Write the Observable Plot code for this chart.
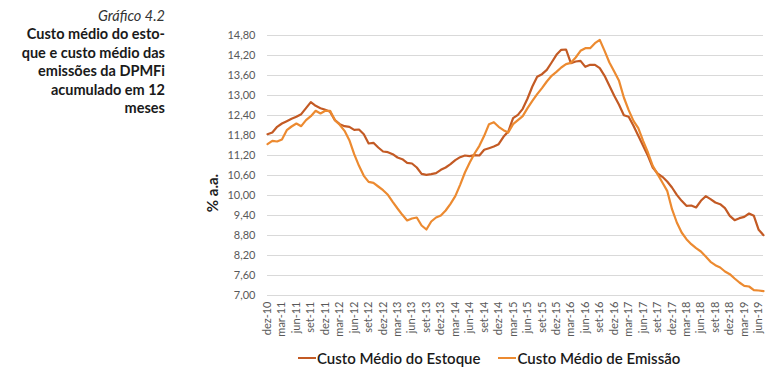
<!DOCTYPE html>
<html>
<head>
<meta charset="utf-8">
<script src="https://cdn.jsdelivr.net/npm/d3@7"></script>
<script src="https://cdn.jsdelivr.net/npm/@observablehq/plot@0.6"></script>
<style>
  html, body { margin: 0; padding: 0; background: #fff; }
  body { width: 780px; height: 375px; position: relative; overflow: hidden; font-family: Lato, "Open Sans", sans-serif; }
  #chart { position: absolute; left: 0; top: 0; z-index: 0; }
  #title { position: absolute; left: 0; top: 7px; width: 165px; text-align: right; z-index: 2; }
  #title .num { font-style: italic; font-size: 14.5px; color: #333; line-height: 18px; }
  #title .main { font-weight: bold; font-size: 14.5px; color: #1a1a1a; line-height: 18.5px; }
  #ylabel { position: absolute; left: 212px; top: 193px; transform: translate(-50%, -50%) rotate(-90deg); font-weight: bold; font-size: 15px; color: #222; white-space: nowrap; z-index: 2; }
  #legend { position: absolute; left: 298px; top: 349px; display: flex; align-items: center; font-size: 15px; color: #1a1a1a; font-weight: 600; white-space: nowrap; z-index: 2; }
  #legend .item { display: flex; align-items: center; margin-right: 18px; }
  #legend .sw { width: 18px; height: 2.5px; margin-right: 1px; }
</style>
</head>
<body>
<div id="chart"></div>
<div id="title">
  <div class="num">Gráfico 4.2</div>
  <div class="main">Custo médio do esto-<br>que e custo médio das<br>emissões da DPMFi<br>acumulado em 12<br>meses</div>
</div>
<div id="ylabel">% a.a.</div>
<div id="legend"></div>
<script>
// Month names (pt-BR) and series start
const monthNames = ["jan","fev","mar","abr","mai","jun","jul","ago","set","out","nov","dez"];
const startYear = 2010, startMonth = 11; // dez-10
const nPoints = 104; // dez-10 .. jul-19

const seriesNames = ["Custo Médio do Estoque", "Custo Médio de Emissão"];
const seriesColors = ["#c35a24", "#ec8a30"];

const estoque = [
  11.84, 11.89, 12.06, 12.16, 12.23, 12.30, 12.36, 12.44, 12.62, 12.80,
  12.69, 12.62, 12.57, 12.51, 12.26, 12.14, 12.08, 12.06, 11.97, 11.98,
  11.84, 11.56, 11.58, 11.44, 11.32, 11.30, 11.24, 11.14, 11.09, 10.98,
  10.96, 10.84, 10.65, 10.62, 10.64, 10.67, 10.77, 10.84, 10.94, 11.06,
  11.15, 11.20, 11.18, 11.21, 11.20, 11.37, 11.42, 11.47, 11.54, 11.76,
  11.92, 12.32, 12.42, 12.60, 12.91, 13.27, 13.56, 13.64, 13.77, 13.99,
  14.22, 14.37, 14.38, 13.97, 14.02, 14.04, 13.86, 13.92, 13.92, 13.82,
  13.59, 13.29, 12.99, 12.72, 12.41, 12.36, 12.09, 11.79, 11.49, 11.19,
  10.84, 10.66, 10.56, 10.42, 10.24, 10.02, 9.84, 9.69, 9.70, 9.64,
  9.84, 9.98, 9.89, 9.79, 9.74, 9.62, 9.39, 9.26, 9.32, 9.36,
  9.46, 9.39, 8.97, 8.81
];

const emissao = [
  11.54, 11.64, 11.62, 11.68, 11.96, 12.07, 12.16, 12.08, 12.26, 12.38,
  12.54, 12.46, 12.54, 12.54, 12.26, 12.12, 11.94, 11.66, 11.24, 10.89,
  10.59, 10.41, 10.38, 10.27, 10.16, 10.02, 9.81, 9.61, 9.42, 9.25,
  9.31, 9.34, 9.10, 8.98, 9.22, 9.34, 9.40, 9.55, 9.75, 9.98,
  10.32, 10.69, 10.99, 11.26, 11.49, 11.79, 12.14, 12.20, 12.06, 11.96,
  11.89, 12.14, 12.26, 12.38, 12.62, 12.84, 13.04, 13.22, 13.42, 13.59,
  13.71, 13.84, 13.94, 13.98, 14.14, 14.34, 14.42, 14.42, 14.57, 14.67,
  14.34, 13.99, 13.72, 13.44, 12.94, 12.56, 12.24, 12.02, 11.64, 11.29,
  10.89, 10.64, 10.39, 10.14, 9.59, 9.19, 8.89, 8.69, 8.54, 8.42,
  8.32, 8.17, 8.01, 7.91, 7.84, 7.72, 7.64, 7.51, 7.39, 7.29,
  7.27, 7.16, 7.15, 7.13
];

const yTicks = [7.00, 7.60, 8.20, 8.80, 9.40, 10.00, 10.60, 11.20, 11.80, 12.40, 13.00, 13.60, 14.20, 14.80];

const months = [];
for (let i = 0; i < nPoints; i++) {
  const mi = (startMonth + i) % 12;
  const yr = startYear + Math.floor((startMonth + i) / 12);
  months.push(monthNames[mi] + "-" + String(yr % 100).padStart(2, "0"));
}
const xTicks = months.filter((_, i) => i % 3 === 0);

const rows = [];
months.forEach((m, i) => {
  rows.push({m, v: estoque[i], s: seriesNames[0]});
});
months.forEach((m, i) => {
  rows.push({m, v: emissao[i], s: seriesNames[1]});
});

const fmt = d => d.toFixed(2).replace(".", ",");

const chart = Plot.plot({
  width: 780,
  height: 345,
  marginLeft: 267,
  marginRight: 17,
  marginTop: 35,
  marginBottom: 50,
  style: {fontFamily: "Lato, 'Open Sans', sans-serif", fontSize: "11px", color: "#595959", background: "transparent", overflow: "visible"},
  x: {type: "point", domain: months, padding: 0},
  y: {domain: [7, 14.8]},
  color: {domain: seriesNames, range: seriesColors},
  marks: [
    Plot.gridY(yTicks, {stroke: "#d9d9d9", strokeOpacity: 1, strokeWidth: 1}),
    Plot.axisY(yTicks, {tickSize: 0, tickPadding: 12, tickFormat: fmt, label: null}),
    Plot.axisX(xTicks, {tickRotate: -90, tickSize: 0, tickPadding: 6, label: null}),
    Plot.lineY(rows, {x: "m", y: "v", z: "s", stroke: "s", strokeWidth: 2.2, strokeLinejoin: "round"})
  ]
});
document.getElementById("chart").appendChild(chart);

const legend = document.getElementById("legend");
seriesNames.forEach((name, k) => {
  const item = document.createElement("div");
  item.className = "item";
  const sw = document.createElement("span");
  sw.className = "sw";
  sw.style.background = seriesColors[k];
  const tx = document.createElement("span");
  tx.textContent = name;
  item.appendChild(sw);
  item.appendChild(tx);
  legend.appendChild(item);
});
</script>
</body>
</html>
